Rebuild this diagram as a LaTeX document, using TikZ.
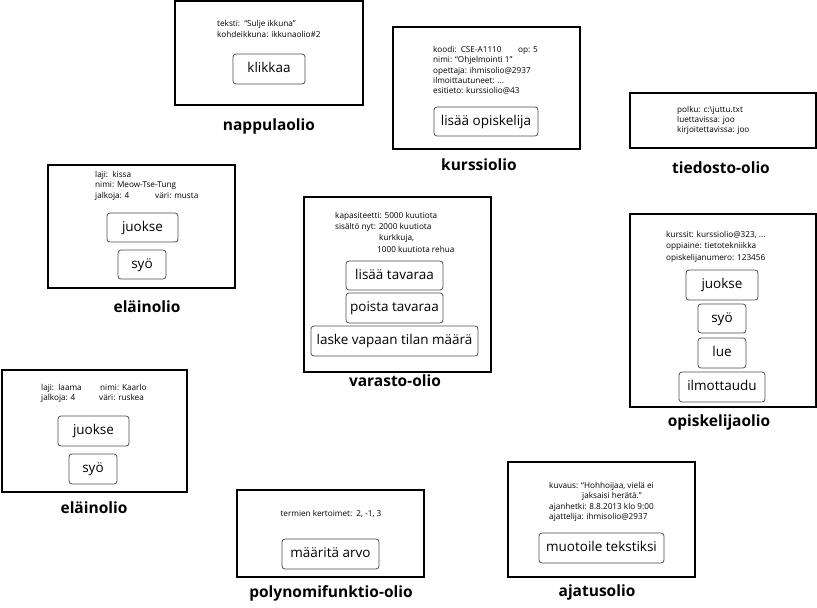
\documentclass[tikz,border=0pt]{standalone}
\usepackage{fontspec}
\setmainfont{Open Sans}
\begin{document}
\begin{tikzpicture}[x=1pt,y=-1pt,
  obj/.style={draw=black,line width=1.2pt,inner sep=0pt},
  btn/.style={draw=black!70,line width=0.8pt,rounded corners=3pt,inner sep=0pt,font=\fontsize{13.5}{15}\selectfont,text height=10pt,text depth=3pt},
  small/.style={anchor=west,inner sep=0pt,font=\fontsize{8.2}{9.5}\selectfont,text height=6pt,text depth=1.6pt},
  ttl/.style={inner sep=0pt,font=\fontsize{15.5}{17}\bfseries\selectfont}]
\useasboundingbox (0,0) rectangle (817,608);
% nappulaolio
\node[obj,minimum width=188pt,minimum height=104pt] (b1) at (269,53) {};
\node[small] (t1a) at (217,24) {teksti:~~“Sulje ikkuna”};
\node[small] (t1b) at (217,35) {kohdeikkuna: ikkunaolio\#2};
\node[btn,minimum width=72pt,minimum height=30pt] (k1) at (269,69) {klikkaa};
\node[ttl] (n1) at (269,126) {nappulaolio};
% kurssiolio
\node[obj,minimum width=187pt,minimum height=122pt] (b2) at (486.5,88) {};
\node[small] (t2a) at (433,50) {koodi:~~CSE-A1110};
\node[small] (t2f) at (518,50) {op: 5};
\node[small] (t2b) at (433,60) {nimi: “Ohjelmointi 1”};
\node[small] (t2c) at (433,71) {opettaja: ihmisolio@2937};
\node[small] (t2d) at (433,81) {ilmoittautuneet: ...};
\node[small] (t2e) at (433,91) {esitieto: kurssiolio@43};
\node[btn,minimum width=104pt,minimum height=29pt] (k2) at (486,121.5) {lisää opiskelija};
\node[ttl] (n2) at (479,165) {kurssiolio};
% tiedosto-olio
\node[obj,minimum width=186pt,minimum height=55pt] (b3) at (723,120.5) {};
\node[small] (t3a) at (677,110) {polku: c:\textbackslash juttu.txt};
\node[small] (t3b) at (677,120) {luettavissa: joo};
\node[small] (t3c) at (677,130) {kirjoitettavissa: joo};
\node[ttl] (n3) at (721,168) {tiedosto-olio};
% eläinolio 1
\node[obj,minimum width=187pt,minimum height=123pt] (b4) at (141.5,226.5) {};
\node[small] (t4a) at (95,175) {laji:~~kissa};
\node[small] (t4b) at (95,185) {nimi: Meow-Tse-Tung};
\node[small] (t4c) at (95,196) {jalkoja: 4};
\node[small] (t4d) at (155,196) {väri: musta};
\node[btn,minimum width=71pt,minimum height=29pt] (k4a) at (142.5,227.5) {juokse};
\node[btn,minimum width=48pt,minimum height=29pt] (k4b) at (142,264.5) {syö};
\node[ttl] (n4) at (147,307) {eläinolio};
% varasto-olio
\node[obj,minimum width=187pt,minimum height=175pt] (b5) at (397.5,284.5) {};
\node[small] (t5a) at (335,216) {kapasiteetti: 5000 kuutiota};
\node[small] (t5b) at (335,227) {sisältö nyt: 2000 kuutiota};
\node[small] (t5c) at (379,238) {kurkkuja,};
\node[small] (t5d) at (377,250) {1000 kuutiota rehua};
\node[btn,minimum width=97pt,minimum height=29pt] (k5a) at (394.5,275.5) {lisää tavaraa};
\node[btn,minimum width=97pt,minimum height=30pt] (k5b) at (394.5,308) {poista tavaraa};
\node[btn,minimum width=167pt,minimum height=30pt] (k5c) at (394.5,341) {laske vapaan tilan määrä};
\node[ttl] (n5) at (395,381) {varasto-olio};
% opiskelijaolio
\node[obj,minimum width=186pt,minimum height=193pt] (b6) at (723,310.5) {};
\node[small] (t6a) at (666,235) {kurssit: kurssiolio@323, ...};
\node[small] (t6b) at (666,246) {oppiaine: tietotekniikka};
\node[small] (t6c) at (666,258) {opiskelijanumero: 123456};
\node[btn,minimum width=72pt,minimum height=30pt] (k6a) at (722,285) {juokse};
\node[btn,minimum width=48pt,minimum height=29pt] (k6b) at (722,318.5) {syö};
\node[btn,minimum width=48pt,minimum height=30pt] (k6c) at (722,353) {lue};
\node[btn,minimum width=86pt,minimum height=30pt] (k6d) at (722,387) {ilmottaudu};
\node[ttl] (n6) at (719,422) {opiskelijaolio};
% eläinolio 2
\node[obj,minimum width=185pt,minimum height=122pt] (b7) at (94.5,431) {};
\node[small] (t7a) at (41,388) {laji:~~laama};
\node[small] (t7b) at (100,388) {nimi: Kaarlo};
\node[small] (t7c) at (41,398) {jalkoja: 4};
\node[small] (t7d) at (99,398) {väri: ruskea};
\node[btn,minimum width=71pt,minimum height=30pt] (k7a) at (93.5,431) {juokse};
\node[btn,minimum width=48pt,minimum height=30pt] (k7b) at (93,469) {syö};
\node[ttl] (n7) at (94,508) {eläinolio};
% polynomifunktio-olio
\node[obj,minimum width=187pt,minimum height=87pt] (b8) at (330.5,533.5) {};
\node[small,anchor=center] (t8a) at (331,514) {termien kertoimet:~~2, -1, 3};
\node[btn,minimum width=97pt,minimum height=30pt] (k8) at (330.5,554) {määritä arvo};
\node[ttl] (n8) at (331,593) {polynomifunktio-olio};
% ajatusolio
\node[obj,minimum width=187pt,minimum height=115pt] (b9) at (601.5,519.5) {};
\node[small] (t9a) at (549,486) {kuvaus: “Hohhoijaa, vielä ei};
\node[small] (t9b) at (582,496) {jaksaisi herätä.”};
\node[small] (t9c) at (549,507) {ajanhetki: 8.8.2013 klo 9:00};
\node[small] (t9d) at (549,517) {ajattelija: ihmisolio@2937};
\node[btn,minimum width=125pt,minimum height=30pt] (k9) at (601.5,548) {muotoile tekstiksi};
\node[ttl] (n9) at (597,592) {ajatusolio};
\end{tikzpicture}
\end{document}
